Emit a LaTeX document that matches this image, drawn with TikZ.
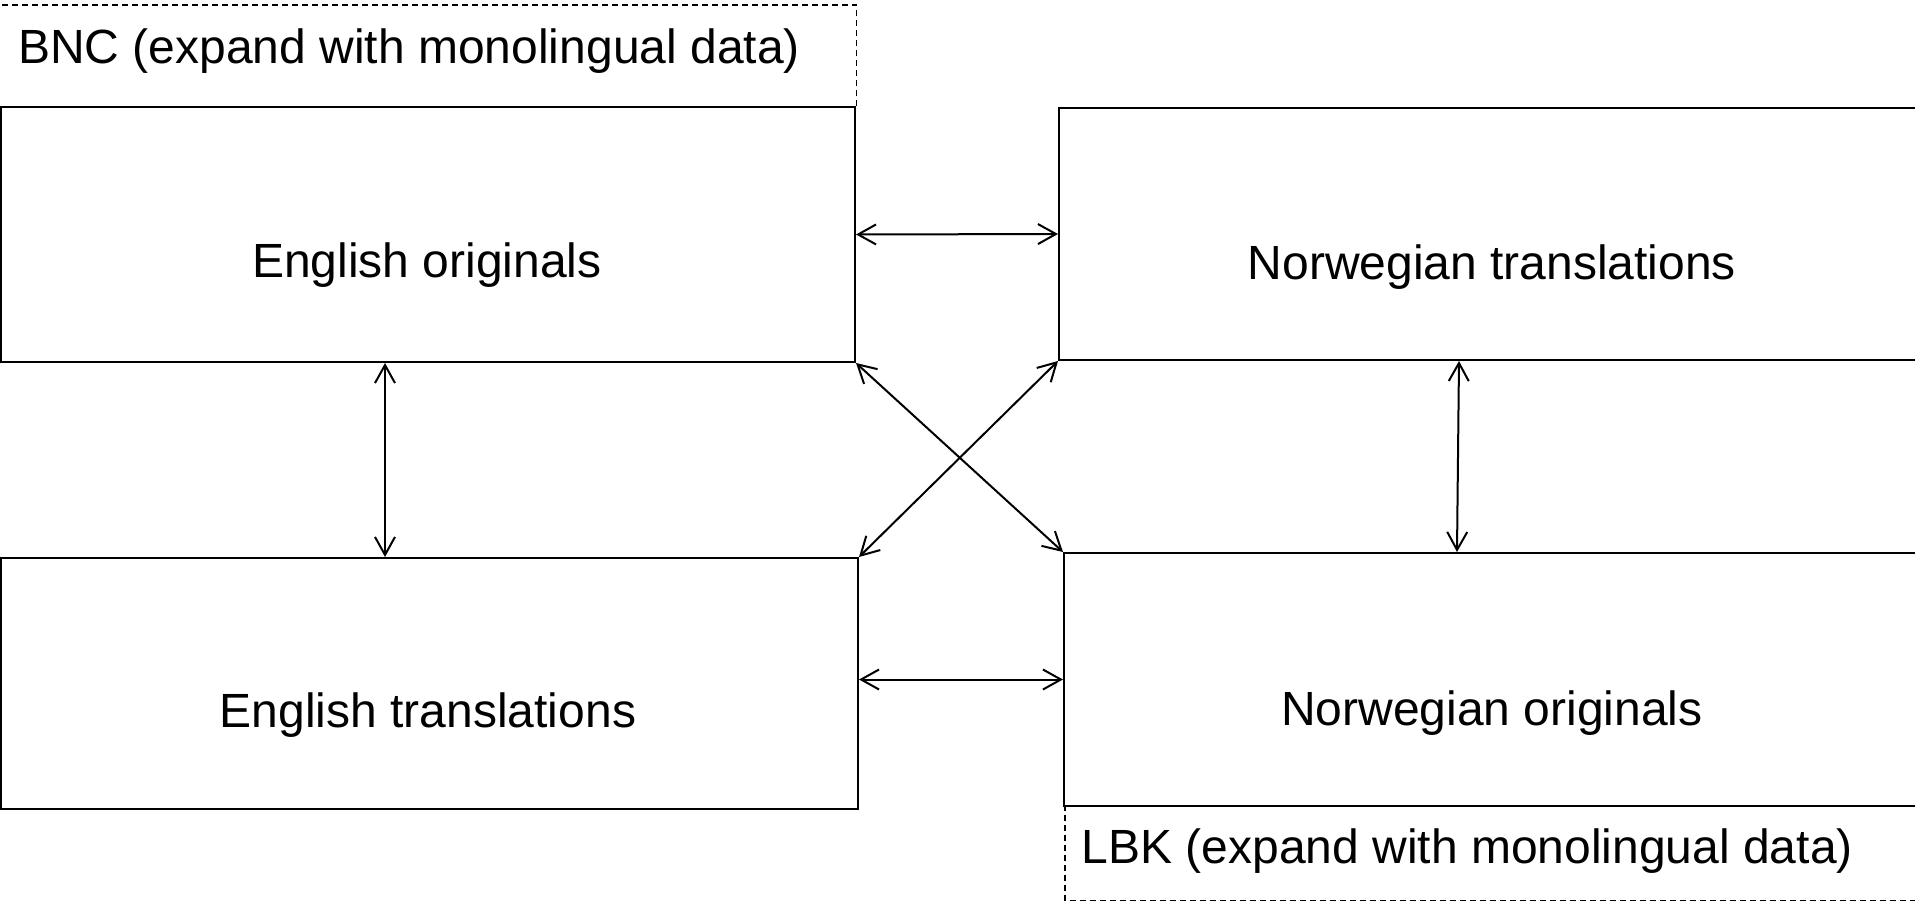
\documentclass[tikz,border=0pt]{standalone}
\usepackage{fontspec}
\setmainfont{Liberation Sans}
\usetikzlibrary{arrows.meta,calc}
\tikzset{
  box/.style={draw=black, line width=2pt, rectangle, inner sep=0pt, anchor=north west},
  lbl/.style={inner sep=0pt, font=\fontsize{48}{58}\selectfont},
  dbox/.style={inner sep=0pt, anchor=north west},
  dash line/.style={draw=black, line width=1.6pt, dash pattern=on 6pt off 4pt},
  arr/.style={draw=black, line width=2pt, {Straight Barb[length=18pt,width=20pt,line width=2pt]}-{Straight Barb[length=18pt,width=20pt,line width=2pt]}}
}
\begin{document}
\begin{tikzpicture}[x=1pt,y=-1pt]
\useasboundingbox (0,0) rectangle (1915,905);
\clip (0,0) rectangle (1915,905);
% dashed corpus boxes
\node[dbox, minimum width=856pt, minimum height=101pt] (bnc) at (0,5) {};
\node[dbox, minimum width=880pt, minimum height=95pt] (lbk) at (1065,805) {};
\draw[dash line] (bnc.south east) -- (bnc.north east) -- (bnc.north west);
\draw[dash line] (lbk.north west) -- (lbk.south west) -- (lbk.south east);
% main boxes
\node[box, minimum width=854pt, minimum height=255pt] (eo) at (0,106) {};
\node[box, minimum width=868pt, minimum height=252pt] (nt) at (1058,107) {};
\node[box, minimum width=857pt, minimum height=251pt] (et) at (0,557) {};
\node[box, minimum width=863pt, minimum height=253pt] (no) at (1063,552) {};
% labels
\node[lbl, anchor=base west] (bnct) at (18,63) {BNC (expand with monolingual data)};
\node[lbl, anchor=base west] (lbkt) at (1081.5,863) {LBK (expand with monolingual data)};
\node[lbl, anchor=base] (eot) at (427,277) {English originals};
\node[lbl, anchor=base] (ntt) at (1492,279) {Norwegian translations};
\node[lbl, anchor=base] (ett) at (428,727) {English translations};
\node[lbl, anchor=base] (not) at (1492,725) {Norwegian originals};
% connectors
\draw[arr] (eo.east) -- (nt.west);
\draw[arr] (et.east |- no.west) -- (no.west);
\draw[arr] ($(eo.south west)+(385,0)$) -- ($(et.north west)+(385,0)$);
\draw[arr] ($(nt.south west)+(401,0)$) -- ($(no.north west)+(394,0)$);
\draw[arr] (eo.south east) -- (no.north west);
\draw[arr] (nt.south west) -- (et.north east);
\end{tikzpicture}
\end{document}
